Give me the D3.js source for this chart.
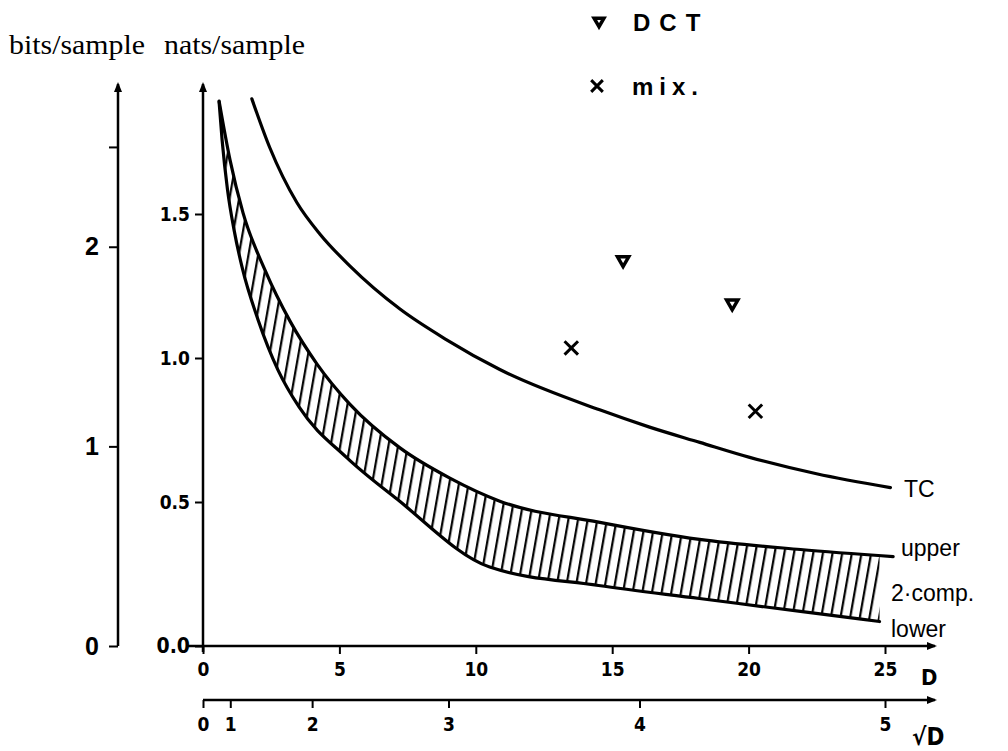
<!DOCTYPE html>
<html>
<head>
<meta charset="utf-8">
<script src="https://cdn.jsdelivr.net/npm/d3@7"></script>
<style>
  body { margin: 0; background: #fff; }
  svg { display: block; }
</style>
</head>
<body>
<svg id="chart"></svg>
<script>
const width = 1008
const height = 751

// rate curves: [D, nats/sample]
const tcCurve = [
  [1.79, 1.9], [2.45, 1.73], [3.44, 1.54], [4.29, 1.43], [5.38, 1.32], [7.22, 1.17],
  [8.9, 1.065], [10.88, 0.96], [14.54, 0.82], [16.37, 0.76], [18.21, 0.707],
  [20.04, 0.655], [22.49, 0.598], [25.2, 0.55],
]
const upperCurve = [
  [0.59, 1.892], [0.99, 1.688], [1.47, 1.503], [2.27, 1.306], [3.19, 1.128], [4.18, 0.979],
  [5.38, 0.84], [7.22, 0.688], [9.05, 0.583], [10.88, 0.503], [14.5, 0.43], [18.2, 0.37],
  [21.9, 0.335], [25.3, 0.31],
]
const lowerCurve = [
  [0.59, 1.889], [0.7, 1.757], [0.9, 1.583], [1.14, 1.444], [1.43, 1.316], [2.02, 1.132],
  [2.75, 0.958], [3.52, 0.83], [5.28, 0.653], [7.11, 0.51], [10.51, 0.274], [14.5, 0.21],
  [18.2, 0.165], [21.9, 0.12], [24.8, 0.085],
]
const dctPoints = [[15.4, 1.34], [19.4, 1.19]]
const mixPoints = [[13.5, 1.035], [20.25, 0.815]]

// tick values
const dTicks = [0, 5, 10, 15, 20, 25]
const sqrtTicks = [0, 1, 2, 3, 4, 5]
const natsTicks = [0, 0.5, 1.0, 1.5]
const natsLabels = ['0.0', '0.5', '1.0', '1.5']
const bitsTicks = [0, 1, 2, 2.5]
const bitsLabels = ['0', '1', '2', '']

const svg = d3.select('#chart').attr('width', width).attr('height', height)

const x = d3.scaleLinear().domain([0, 25]).range([203, 885])
const xSqrt = d3.scalePow().exponent(2).domain([0, 5]).range([203, 885])
const y = d3.scaleLinear().domain([0, 1.5]).range([646, 214])
const yBits = d3.scaleLinear().domain([0, 1]).range([y(0), y(Math.LN2)])

const axisTop = 84
const tickFont = 'DejaVu Sans Condensed, Liberation Sans Narrow, DejaVu Sans, sans-serif'
const sans = 'Liberation Sans, Arial, sans-serif'

const defs = svg.append('defs')
defs
  .append('marker')
  .attr('id', 'arrow')
  .attr('viewBox', '0 0 10 10')
  .attr('refX', 8)
  .attr('refY', 5)
  .attr('markerWidth', 4)
  .attr('markerHeight', 4)
  .attr('markerUnits', 'strokeWidth')
  .attr('orient', 'auto')
  .append('path')
  .attr('d', 'M0,1 L10,5 L0,9 Z')
  .attr('fill', '#000')

// hatching for the 2-comp. band
const hatch = defs
  .append('pattern')
  .attr('id', 'hatch')
  .attr('patternUnits', 'userSpaceOnUse')
  .attr('width', 9.5)
  .attr('height', 20)
  .attr('patternTransform', 'rotate(10)')
hatch
  .append('line')
  .attr('x1', 4)
  .attr('y1', 0)
  .attr('x2', 4)
  .attr('y2', 20)
  .attr('stroke', '#000')
  .attr('stroke-width', 2.2)

// --------------------------------------------------------------
// axes
const styleAxis = function (g, size, weight = 'bold', family = tickFont) {
  g.select('.domain').remove()
  g.selectAll('.tick line').attr('stroke', '#000').attr('stroke-width', 2)
  g.selectAll('.tick text')
    .attr('font-family', family)
    .attr('font-weight', weight)
    .attr('font-size', size)
    .attr('fill', '#000')
}

const arrowLine = function (x1, y1, x2, y2) {
  svg
    .append('line')
    .attr('x1', x1)
    .attr('y1', y1)
    .attr('x2', x2)
    .attr('y2', y2)
    .attr('stroke', '#000')
    .attr('stroke-width', 2.5)
    .attr('marker-end', 'url(#arrow)')
}

// D axis
svg
  .append('g')
  .attr('transform', `translate(0,${y(0)})`)
  .call(d3.axisBottom(x).tickValues(dTicks).tickSize(8).tickPadding(9).tickFormat(d3.format('d')))
  .call(styleAxis, 19)
arrowLine(188, y(0), 935, y(0))

// sqrt(D) axis
const sqrtY = 700
svg
  .append('g')
  .attr('transform', `translate(0,${sqrtY})`)
  .call(d3.axisBottom(xSqrt).tickValues(sqrtTicks).tickSize(8).tickPadding(10).tickFormat(d3.format('d')))
  .call(styleAxis, 19)
arrowLine(203, sqrtY, 935, sqrtY)

// nats axis
svg
  .append('g')
  .attr('transform', `translate(${x(0)},0)`)
  .call(d3.axisLeft(y).tickValues(natsTicks).tickSize(8).tickPadding(5).tickFormat((d, i) => natsLabels[i]))
  .call(styleAxis, 19)
  .selectAll('.tick text')
  .attr('font-size', (d) => (d === 0 ? 21 : 19))
arrowLine(x(0), y(0) + 6, x(0), axisTop)

// bits axis
const bitsX = 118
svg
  .append('g')
  .attr('transform', `translate(${bitsX},0)`)
  .call(d3.axisLeft(yBits).tickValues(bitsTicks).tickSize(9).tickPadding(10).tickFormat((d, i) => bitsLabels[i]))
  .call(styleAxis, 25, 'bold', sans)
arrowLine(bitsX, y(0), bitsX, axisTop)

// axis titles
const serif = 'Liberation Serif, Times New Roman, serif'
svg.append('text').attr('x', 9).attr('y', 54).attr('font-family', serif).attr('font-size', 27)
  .attr('textLength', 136).attr('lengthAdjust', 'spacingAndGlyphs').text('bits/sample')
svg.append('text').attr('x', 164).attr('y', 54).attr('font-family', serif).attr('font-size', 27)
  .attr('textLength', 141).attr('lengthAdjust', 'spacingAndGlyphs').text('nats/sample')

svg.append('text').attr('x', 921).attr('y', 685).attr('font-family', tickFont).attr('font-weight', 'bold').attr('font-size', 22).text('D')
svg.append('text').attr('x', 912).attr('y', 745).attr('font-family', tickFont).attr('font-weight', 'bold').attr('font-size', 24).text('√D')

// --------------------------------------------------------------
// curves
const line = d3
  .line()
  .x((d) => x(d[0]))
  .y((d) => y(d[1]))
  .curve(d3.curveMonotoneX)

// band: region under the upper curve, clipped to the region above the lower curve
defs
  .append('clipPath')
  .attr('id', 'aboveLower')
  .append('path')
  .attr('d', d3.area().x((d) => x(d[0])).y0(0).y1((d) => y(d[1])).curve(d3.curveMonotoneX)(lowerCurve))

svg
  .append('path')
  .attr('d', d3.area().x((d) => x(d[0])).y0(y(0)).y1((d) => y(d[1])).curve(d3.curveMonotoneX)(upperCurve))
  .attr('fill', 'url(#hatch)')
  .attr('clip-path', 'url(#aboveLower)')

svg
  .selectAll('path.curve')
  .data([tcCurve, upperCurve, lowerCurve])
  .join('path')
  .attr('class', 'curve')
  .attr('d', line)
  .attr('fill', 'none')
  .attr('stroke', '#000')
  .attr('stroke-width', 3.2)
  .attr('stroke-linecap', 'round')

// --------------------------------------------------------------
// measured points
svg
  .append('g')
  .selectAll('path')
  .data(dctPoints)
  .join('path')
  .attr('d', d3.symbol(d3.symbolTriangle2, 90))
  .attr('transform', (d) => `translate(${x(d[0])},${y(d[1])}) rotate(180)`)
  .attr('fill', 'none')
  .attr('stroke', '#000')
  .attr('stroke-width', 3.5)

svg
  .append('g')
  .selectAll('path')
  .data(mixPoints)
  .join('path')
  .attr('d', d3.symbol(d3.symbolTimes, 120))
  .attr('transform', (d) => `translate(${x(d[0])},${y(d[1])})`)
  .attr('stroke', '#000')
  .attr('stroke-width', 3)

// legend
svg
  .append('path')
  .attr('d', d3.symbol(d3.symbolTriangle2, 70))
  .attr('transform', 'translate(599,21) rotate(180)')
  .attr('fill', 'none')
  .attr('stroke', '#000')
  .attr('stroke-width', 3.5)
svg.append('text').attr('x', 633).attr('y', 31).attr('font-family', sans).attr('font-weight', 'bold').attr('font-size', 24).attr('letter-spacing', 9).text('DCT')
svg
  .append('path')
  .attr('d', d3.symbol(d3.symbolTimes, 90))
  .attr('transform', 'translate(597,86)')
  .attr('stroke', '#000')
  .attr('stroke-width', 3)
svg.append('text').attr('x', 632).attr('y', 95).attr('font-family', sans).attr('font-weight', 'bold').attr('font-size', 24).attr('letter-spacing', 6).text('mix.')

// right-hand labels
const labels = [
  { text: 'TC', x: 904, y: 497 },
  { text: 'upper', x: 901, y: 556 },
  { text: '2·comp.', x: 891, y: 601 },
  { text: 'lower', x: 891, y: 637 },
]
svg
  .append('g')
  .selectAll('text')
  .data(labels)
  .join('text')
  .attr('x', (d) => d.x)
  .attr('y', (d) => d.y)
  .attr('font-family', sans)
  .attr('font-size', 23)
  .text((d) => d.text)
</script>
</body>
</html>
